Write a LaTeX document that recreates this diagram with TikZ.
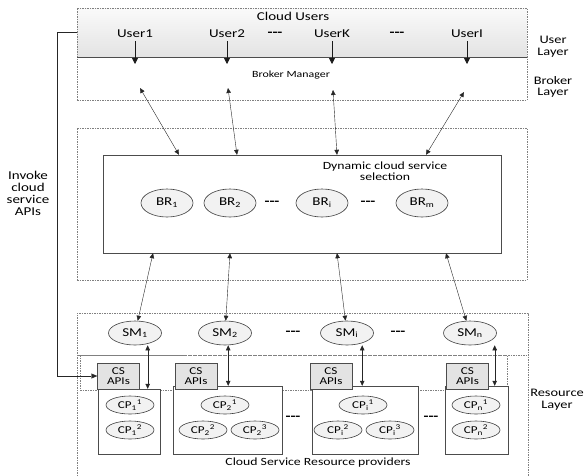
\documentclass[tikz,border=0pt]{standalone}
\usepackage{fontspec}
\setmainfont{Carlito}[FakeStretch=1.25]
\usepackage{tikz}
\usetikzlibrary{arrows.meta, positioning, shapes.geometric, calc}

\newcommand{\tridash}{\textbf{-{}-{}-}}
\newcommand{\fsz}[1]{\fontsize{#1}{#1}\selectfont}

\begin{document}
\begin{tikzpicture}[
    x=1pt, y=-1pt,
    font=\fsz{12},
    layer/.style={draw=gray, dash pattern=on 1.5pt off 1pt},
    br/.style={draw=gray!50!black, line width=0.6pt, fill=gray!10, ellipse, minimum width=52pt, minimum height=28pt, inner sep=0pt, font=\fsz{12}},
    sm/.style={br, minimum width=53pt, minimum height=24pt},
    cp/.style={br, minimum width=48pt, minimum height=18pt, font=\fsz{10.5}},
    apis/.style={draw=gray!60!black, fill=gray!22, minimum width=42pt, minimum height=26pt, inner sep=0pt, align=center, font=\fsz{10.5}},
    cpbox/.style={draw=gray!60!black, fill=white, inner sep=0pt},
    dots/.style={font=\fsz{13}},
    link/.style={{Triangle[length=5pt,width=4.5pt]}-{Triangle[length=5pt,width=4.5pt]}, gray!30!black},
    down/.style={-{Triangle[length=6pt,width=6pt]}, thick, gray!20!black},
    side/.style={align=center, font=\fsz{11.5}, text depth=0pt},
]
\useasboundingbox (0,0) rectangle (586,475);

% User and broker layer
\fill[top color=gray!4, bottom color=gray!22] (77,8) rectangle (527,57);
\node[layer, minimum width=450pt, minimum height=92pt] (brokerlayer) at (302,54) {};
\draw[gray!60!black] (77,57) -- (527,57);

\node (cloudusers) at (293,16) {Cloud Users};
\node (u1) at (135,34) {User1};
\node (u2) at (227,34) {User2};
\node[dots] at (275,34) {\tridash};
\node (uk) at (332,34) {UserK};
\node[dots] at (397,34) {\tridash};
\node (ul) at (467,34) {UserI};

\coordinate (b1) at (135,64);
\coordinate (b2) at (227,64);
\coordinate (bk) at (332,64);
\coordinate (bl) at (467,64);
\draw[down] (u1) -- (b1);
\draw[down] (u2) -- (b2);
\draw[down] (uk) -- (bk);
\draw[down] (ul) -- (bl);

\node[font=\fsz{9.5}] (manager) at (291,75) {Broker Manager};

\node[side] (userlbl) at (553,46) {User\\Layer};
\node[side] (brokerlbl) at (553,86) {Broker\\Layer};

% Service selection
\node[layer, minimum width=450pt, minimum height=152pt] (selectlayer) at (302,204) {};
\node[draw=gray!60!black, fill=white, minimum width=398pt, minimum height=98pt] (dcs) at (302,204) {};
\node[align=center, font=\fsz{11}] (dcslbl) at (385,171) {Dynamic cloud service\\selection};

\node[br] (br1) at (167,203) {BR\textsubscript{1}};
\node[br] (br2) at (230,203) {BR\textsubscript{2}};
\node[dots] at (272,203) {\tridash};
\node[br] (bri) at (322,203) {BR\textsubscript{i}};
\node[dots] at (368,203) {\tridash};
\node[br] (brm) at (422,203) {BR\textsubscript{m}};

\coordinate (m1) at (140,88);
\coordinate (m2) at (228,88);
\coordinate (mk) at (333,90);
\coordinate (ml) at (464,92);
\draw[link] (m1) -- (dcs.north -| 179,0);
\draw[link] (m2) -- (dcs.north -| 237,0);
\draw[link] (mk) -- (dcs.north -| 337,0);
\draw[link] (ml) -- (dcs.north -| 426,0);

% Resource layer
\draw[layer] (77,476) |- (528,313) -- (528,476);
\draw[layer] (78,355) -- (528,355);
\draw[layer] (80,355) rectangle (507,390);

\node[sm] (sm1) at (135,333) {SM\textsubscript{1}};
\node[sm] (sm2) at (225,333) {SM\textsubscript{2}};
\node[dots] at (293,333) {\tridash};
\node[sm] (smi) at (347,333) {SM\textsubscript{i}};
\node[dots] at (398,333) {\tridash};
\node[sm] (smn) at (470,333) {SM\textsubscript{n}};

\draw[link] (dcs.south -| 153,0) -- (sm1);
\draw[link] (dcs.south -| 230,0) -- (sm2);
\draw[link] (dcs.south -| 337,0) -- (smi);
\draw[link] (dcs.south -| 446,0) -- (smn);

% Providers
\node[cpbox, minimum width=62pt, minimum height=65pt] (cpb1) at (129,421.5) {};
\node[cpbox, minimum width=109pt, minimum height=68pt] (cpb2) at (227.5,420) {};
\node[cpbox, minimum width=106pt, minimum height=68pt] (cpb3) at (365,420) {};
\node[cpbox, minimum width=63pt, minimum height=68pt] (cpb4) at (476.5,420) {};

\node[apis] (apis1) at (118.5,376) {CS\\APIs};
\node[apis] (apis2) at (196,376) {CS\\APIs};
\node[apis] (apis3) at (331,376) {CS\\APIs};
\node[apis] (apis4) at (467.5,376) {CS\\APIs};

\draw[link] ([xshift=8pt]apis1.east |- sm1.south) -- ([xshift=8pt]apis1.east |- cpb1.north);
\draw[link] ([xshift=11pt]apis2.east |- sm2.south) -- ([xshift=11pt]apis2.east |- cpb2.north);
\draw[link] ([xshift=10pt]apis3.east |- smi.south) -- ([xshift=10pt]apis3.east |- cpb3.north);
\draw[link] ([xshift=6pt]apis4.east |- smn.south) -- ([xshift=6pt]apis4.east |- cpb4.north);

\node[cp] (cp11) at (130,405) {CP\textsubscript{1}\textsuperscript{1}};
\node[cp] (cp12) at (130,430) {CP\textsubscript{1}\textsuperscript{2}};
\node[cp] (cp21) at (225,405) {CP\textsubscript{2}\textsuperscript{1}};
\node[cp] (cp22) at (203,430) {CP\textsubscript{2}\textsuperscript{2}};
\node[cp] (cp23) at (255,430) {CP\textsubscript{2}\textsuperscript{3}};
\node[dots] at (293,418) {\tridash};
\node[cp] (cpi1) at (363,405) {CP\textsubscript{i}\textsuperscript{1}};
\node[cp] (cpi2) at (338,430) {CP\textsubscript{i}\textsuperscript{2}};
\node[cp] (cpi3) at (390,430) {CP\textsubscript{i}\textsuperscript{3}};
\node[dots] at (431,418) {\tridash};
\node[cp] (cpn1) at (476,405) {CP\textsubscript{n}\textsuperscript{1}};
\node[cp] (cpn2) at (476,430) {CP\textsubscript{n}\textsuperscript{2}};

\node[font=\fsz{11}] (providers) at (318,463) {Cloud Service Resource providers};
\node[side] (resourcelbl) at (557,399) {Resource\\Layer};

% Invoke APIs
\node[side, font=\fsz{12}] (invoke) at (28,193) {Invoke\\cloud\\service\\APIs};
\draw[gray!30!black, -{Triangle[length=6pt,width=5pt]}] (brokerlayer.west |- 0,32) -- ++(-20,0) |- (apis1.west);

\end{tikzpicture}
\end{document}
